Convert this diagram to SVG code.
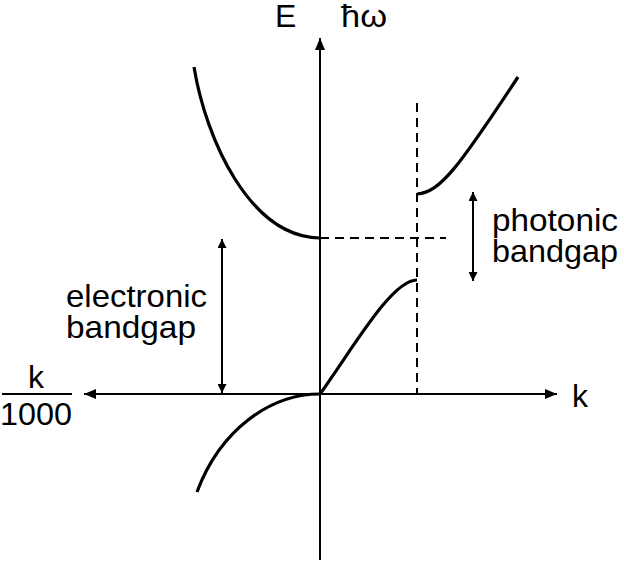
<svg xmlns="http://www.w3.org/2000/svg" width="624" height="565" viewBox="0 0 624 565">
<style>
.ax{stroke:#000;stroke-width:2;fill:none}
.cv{stroke:#000;stroke-width:3.2;fill:none;stroke-linecap:butt}
.ds{stroke:#000;stroke-width:2;fill:none;stroke-dasharray:9,6}
.ar{stroke:#000;stroke-width:2;fill:none}
text{font-family:"Liberation Sans",Arial,sans-serif;font-size:32px;fill:#000}
</style>
<defs>
<marker id="ah" viewBox="0 0 12 10" refX="12" refY="5" markerWidth="12" markerHeight="10" markerUnits="userSpaceOnUse" orient="auto-start-reverse">
<path d="M0,0 L12,5 L0,10 z" fill="#000"/>
</marker>
<marker id="sh" viewBox="0 0 10 10" refX="10" refY="5" markerWidth="10" markerHeight="9" markerUnits="userSpaceOnUse" orient="auto-start-reverse">
<path d="M0,0 L10,5 L0,10 z" fill="#000"/>
</marker>
</defs>
<rect width="624" height="565" fill="#fff"/>
<g id="connectors">
<line id="axis-e" class="ax" x1="320" y1="560" x2="320" y2="38" marker-end="url(#ah)"/>
<line id="axis-k" class="ax" x1="84" y1="394" x2="557" y2="394" marker-start="url(#ah)" marker-end="url(#ah)"/>
<line id="dash-v" class="ds" x1="417" y1="103" x2="417" y2="394"/>
<line id="dash-h" class="ds" x1="320" y1="238" x2="446" y2="238"/>
<line id="arrow-electronic" class="ar" x1="222" y1="239" x2="222" y2="393" marker-start="url(#sh)" marker-end="url(#sh)"/>
<line id="arrow-photonic" class="ar" x1="473" y1="192" x2="473" y2="281" marker-start="url(#sh)" marker-end="url(#sh)"/>
</g>
<g id="curves">
<path id="conduction" class="cv" d="M194,67 C206,140 250,237 320,238"/>
<path id="valence" class="cv" d="M197,492 C220,430 270,394 320,394"/>
<path id="photon-lower" class="cv" d="M320,394 C355,345 392,280 417,280"/>
<path id="photon-upper" class="cv" d="M417,194 C440,193 460,165 518,77"/>
</g>
<g id="label-E"><text x="275" y="27" font-size="26">E</text></g>
<g id="label-hw"><text x="341" y="27" font-size="28" textLength="46" lengthAdjust="spacingAndGlyphs">ħω</text></g>
<g id="label-k"><text x="572" y="407" font-size="32">k</text></g>
<g id="label-k1000">
<text x="36" y="388" font-size="31" text-anchor="middle">k</text>
<line x1="2" y1="394" x2="72" y2="394" stroke="#000" stroke-width="2"/>
<text x="0" y="425" font-size="31" textLength="72" lengthAdjust="spacingAndGlyphs">1000</text>
</g>
<g id="label-electronic">
<text x="66" y="307" textLength="141" lengthAdjust="spacingAndGlyphs">electronic</text>
<text x="66" y="338" textLength="130" lengthAdjust="spacingAndGlyphs">bandgap</text>
</g>
<g id="label-photonic">
<text x="492" y="231" textLength="126" lengthAdjust="spacingAndGlyphs">photonic</text>
<text x="492" y="262" textLength="126" lengthAdjust="spacingAndGlyphs">bandgap</text>
</g>
</svg>
